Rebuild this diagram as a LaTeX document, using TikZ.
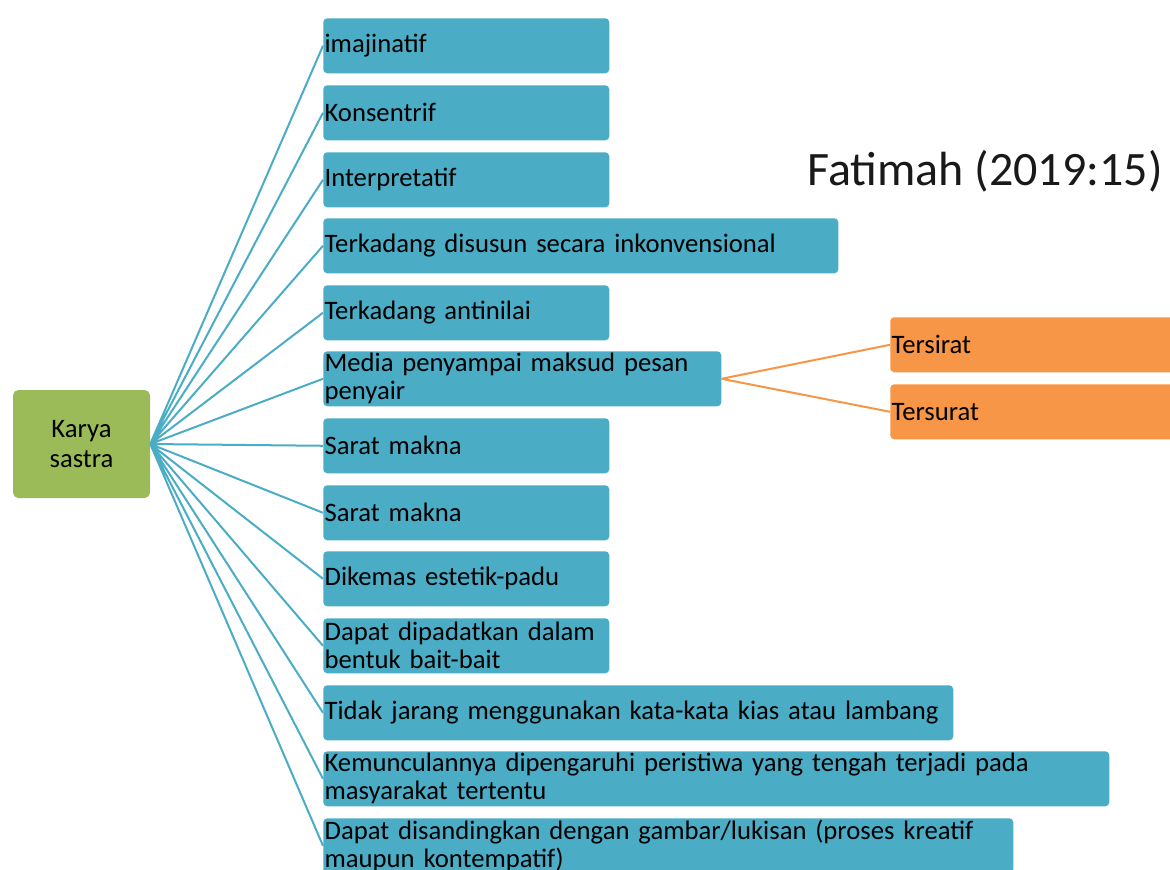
\documentclass[tikz,border=0pt]{standalone}
\usepackage{fontspec}
\setmainfont{Carlito}
\definecolor{itemblue}{HTML}{4BACC6}
\definecolor{rootgreen}{HTML}{9BBB59}
\definecolor{suborange}{HTML}{F79646}

\begin{document}
\begin{tikzpicture}[x=0.75pt,y=-0.75pt,
	box/.style={rounded corners=3pt, anchor=north west, align=left, inner xsep=1pt, inner ysep=0pt,
		minimum height=41.25pt, font=\fontsize{20}{21}\selectfont, text=black},
	bw/.style={minimum width=#1*0.75pt, text width=#1*0.75pt-2pt},
	item/.style={box, fill=itemblue},
	sub/.style={box, fill=suborange},
	blueline/.style={draw=itemblue, line width=1.5pt},
	orangeline/.style={draw=suborange, line width=1.5pt}]
	\useasboundingbox (0,0) rectangle (1170,869);
	\clip (0,0) rectangle (1170,869);

	\node[rounded corners=4pt, fill=rootgreen, minimum width=102.75pt, minimum height=81pt, align=center,
		inner sep=0pt, font=\fontsize{20}{22.5}\selectfont] (karya) at (81.5,444) {Karya\\sastra};

	\node[item, bw=286] (c1) at (323,18) {imajinatif};
	\node[item, bw=286] (c2) at (323,85) {Konsentrif};
	\node[item, bw=286] (c3) at (323,152) {Interpretatif};
	\node[item, bw=515] (c4) at (323,218) {Terkadang disusun secara inkonvensional};
	\node[item, bw=286] (c5) at (323,285) {Terkadang antinilai};
	\node[item, bw=398] (c6) at (323,351) {Media penyampai maksud pesan\\penyair};
	\node[item, bw=286] (c7) at (323,418) {Sarat makna};
	\node[item, bw=286] (c8) at (323,485) {Sarat makna};
	\node[item, bw=286] (c9) at (323,551) {Dikemas estetik-padu};
	\node[item, bw=286] (c10) at (323,618) {Dapat dipadatkan dalam\\bentuk bait-bait};
	\node[item, bw=630] (c11) at (323,685) {Tidak jarang menggunakan kata-kata kias atau lambang};
	\node[item, bw=786] (c12) at (323,751) {Kemunculannya dipengaruhi peristiwa yang tengah terjadi pada\\masyarakat tertentu};
	\node[item, bw=690] (c13) at (323,818) {Dapat disandingkan dengan gambar/lukisan (proses kreatif\\maupun kontempatif)};

	\node[sub, bw=300] (tersirat) at (890,317) {Tersirat};
	\node[sub, bw=300] (tersurat) at (890,384) {Tersurat};

	\node[anchor=base west, inner sep=0pt, font=\fontsize{36}{40}\selectfont, text=black!90] (sumber) at (807,185) {Fatimah (2019:15)};

	% cabang utama
	\draw[blueline] (karya.east) -- (c1.west) (karya.east) -- (c2.west) (karya.east) -- (c3.west)
		(karya.east) -- (c4.west) (karya.east) -- (c5.west) (karya.east) -- (c6.west)
		(karya.east) -- (c7.west) (karya.east) -- (c8.west) (karya.east) -- (c9.west)
		(karya.east) -- (c10.west) (karya.east) -- (c11.west) (karya.east) -- (c12.west)
		(karya.east) -- (c13.west);
	% cabang pesan
	\draw[orangeline] (c6.east) -- (tersirat.west) (c6.east) -- (tersurat.west);
\end{tikzpicture}
\end{document}
